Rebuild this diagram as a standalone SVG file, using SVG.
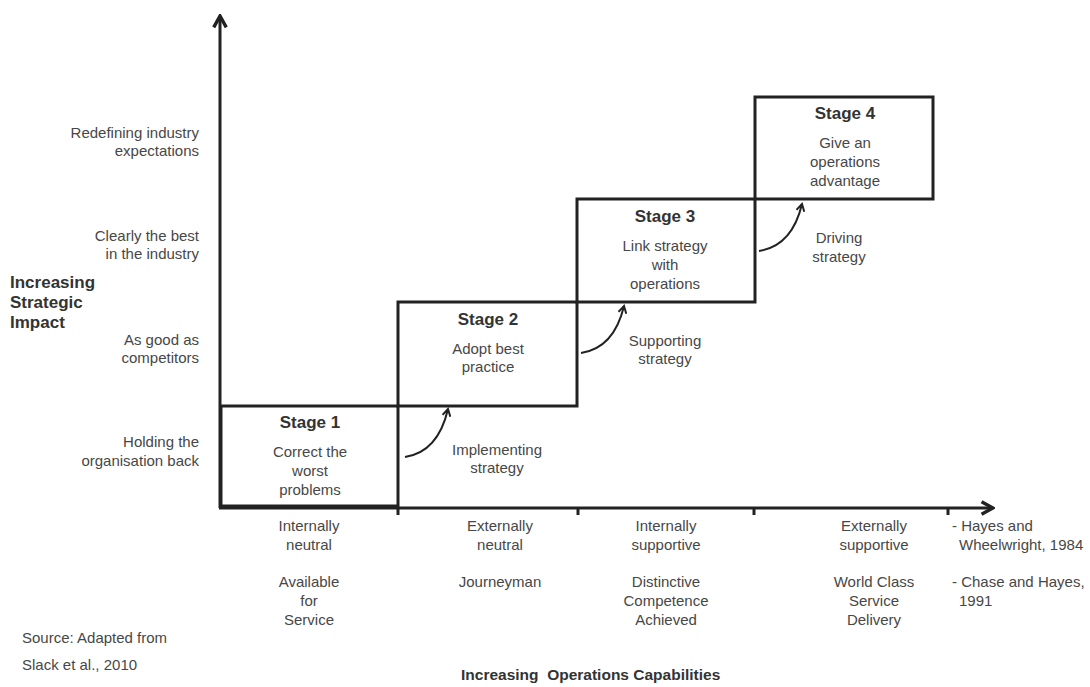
<svg xmlns="http://www.w3.org/2000/svg" width="1090" height="687" viewBox="0 0 1090 687">
<defs>
<style>
.t{font-family:"Liberation Sans",Arial,sans-serif;font-size:15px;fill:#474747}
.m{text-anchor:middle}
.e{text-anchor:end}
.st{font-family:"Liberation Sans",Arial,sans-serif;font-size:17px;font-weight:bold;fill:#333;text-anchor:middle}
.b{font-family:"Liberation Sans",Arial,sans-serif;font-size:17px;font-weight:bold;fill:#333}
.box{fill:none;stroke:#222;stroke-width:3}
.ax{fill:none;stroke:#222;stroke-width:3}
.cv{fill:none;stroke:#222;stroke-width:2}
.s{font-family:"Liberation Sans",Arial,sans-serif;font-size:15px;fill:#474747}
</style>
<marker id="ah" viewBox="0 0 10 10" refX="8" refY="5" markerWidth="10" markerHeight="10" markerUnits="userSpaceOnUse" orient="auto">
<path d="M1,1 L8,5 L1,9" fill="none" stroke="#222" stroke-width="2"/>
</marker>
<marker id="axh" viewBox="0 0 14 14" refX="12" refY="7" markerWidth="16" markerHeight="16" markerUnits="userSpaceOnUse" orient="auto">
<path d="M2,1.5 L12,7 L2,12.5" fill="none" stroke="#222" stroke-width="3"/>
</marker>
</defs>
<rect width="1090" height="687" fill="#fff"/>
<g id="axes">
<line class="ax" x1="220" y1="508" x2="220" y2="16" marker-end="url(#axh)"/>
<line class="ax" x1="219" y1="508" x2="993" y2="508" marker-end="url(#axh)"/>
<line class="ax" x1="398" y1="507" x2="398" y2="515"/>
<line class="ax" x1="578" y1="507" x2="578" y2="515"/>
<line class="ax" x1="754" y1="507" x2="754" y2="515"/>
<line class="ax" x1="948" y1="507" x2="948" y2="515"/>
</g>
<g id="stage1">
<rect class="box" x="221" y="406" width="177" height="100"/>
<text class="st" x="310" y="428">Stage 1</text>
<text class="t m" x="310" y="457">Correct the</text>
<text class="t m" x="310" y="476">worst</text>
<text class="t m" x="310" y="495">problems</text>
</g>
<g id="stage2">
<rect class="box" x="398" y="302" width="179" height="104"/>
<text class="st" x="488" y="325">Stage 2</text>
<text class="t m" x="488" y="354">Adopt best</text>
<text class="t m" x="488" y="372">practice</text>
</g>
<g id="stage3">
<rect class="box" x="577" y="199" width="178" height="103"/>
<text class="st" x="665" y="222">Stage 3</text>
<text class="t m" x="665" y="251">Link strategy</text>
<text class="t m" x="665" y="270">with</text>
<text class="t m" x="665" y="289">operations</text>
</g>
<g id="stage4">
<rect class="box" x="755" y="97" width="178" height="102"/>
<text class="st" x="845" y="119">Stage 4</text>
<text class="t m" x="845" y="148">Give an</text>
<text class="t m" x="845" y="167">operations</text>
<text class="t m" x="845" y="186">advantage</text>
</g>
<g id="connectors">
<path class="cv" d="M405,457 Q438,452 448,409" marker-end="url(#ah)"/>
<path class="cv" d="M581,353 Q614,348 624,306" marker-end="url(#ah)"/>
<path class="cv" d="M759,251 Q792,246 802,204" marker-end="url(#ah)"/>
</g>
<g id="strategy-labels">
<text class="t m" x="497" y="455">Implementing</text>
<text class="t m" x="497" y="473">strategy</text>
<text class="t m" x="665" y="346">Supporting</text>
<text class="t m" x="665" y="364">strategy</text>
<text class="t m" x="839" y="243">Driving</text>
<text class="t m" x="839" y="262">strategy</text>
</g>
<g id="y-labels">
<text class="t e" x="199" y="138">Redefining industry</text>
<text class="t e" x="199" y="156">expectations</text>
<text class="t e" x="199" y="241">Clearly the best</text>
<text class="t e" x="199" y="259">in the industry</text>
<text class="t e" x="199" y="345">As good as</text>
<text class="t e" x="199" y="363">competitors</text>
<text class="t e" x="199" y="447">Holding the</text>
<text class="t e" x="199" y="466">organisation back</text>
<text class="b" x="10" y="288">Increasing</text>
<text class="b" x="10" y="308">Strategic</text>
<text class="b" x="10" y="328">Impact</text>
</g>
<g id="x-labels">
<text class="t m" x="309" y="531">Internally</text>
<text class="t m" x="309" y="550">neutral</text>
<text class="t m" x="309" y="587">Available</text>
<text class="t m" x="309" y="606">for</text>
<text class="t m" x="309" y="625">Service</text>
<text class="t m" x="500" y="531">Externally</text>
<text class="t m" x="500" y="550">neutral</text>
<text class="t m" x="500" y="587">Journeyman</text>
<text class="t m" x="666" y="531">Internally</text>
<text class="t m" x="666" y="550">supportive</text>
<text class="t m" x="666" y="587">Distinctive</text>
<text class="t m" x="666" y="606">Competence</text>
<text class="t m" x="666" y="625">Achieved</text>
<text class="t m" x="874" y="531">Externally</text>
<text class="t m" x="874" y="550">supportive</text>
<text class="t m" x="874" y="587">World Class</text>
<text class="t m" x="874" y="606">Service</text>
<text class="t m" x="874" y="625">Delivery</text>
<text class="t" x="952" y="531">- Hayes and</text>
<text class="t" x="959" y="550">Wheelwright, 1984</text>
<text class="t" x="952" y="587">- Chase and Hayes,</text>
<text class="t" x="959" y="606">1991</text>
<text class="b" x="461" y="680" style="font-size:15.5px" xml:space="preserve">Increasing  Operations Capabilities</text>
</g>
<g id="source">
<text class="s" x="22" y="643">Source: Adapted from</text>
<text class="s" x="22" y="670">Slack et al., 2010</text>
</g>
</svg>
